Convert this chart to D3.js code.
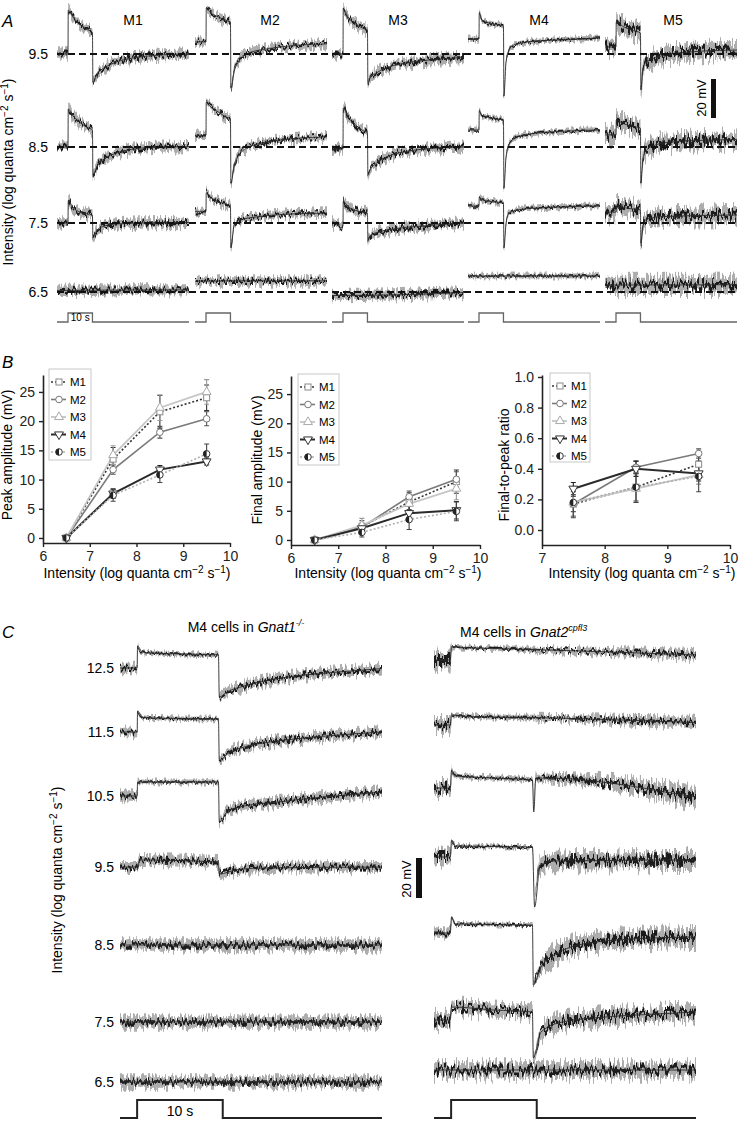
<!DOCTYPE html>
<html>
<head>
<meta charset="utf-8">
<script src="https://cdn.jsdelivr.net/npm/d3@7"></script>
<style>
body { margin: 0; background: #fff; }
svg { display: block; font-family: "Liberation Sans", Arial, Helvetica, sans-serif; }
</style>
</head>
<body>
<div class="fig"></div>
<script>
// ---------- data ----------
var cells = ["M1", "M2", "M3", "M4", "M5"];
var rowsA = ["9.5", "8.5", "7.5", "6.5"];
var rowsC = ["12.5", "11.5", "10.5", "9.5", "8.5", "7.5", "6.5"];
var stimOn = [0, 10];          // light step, s
var scaleBarMv = 20;

// panel A traces, [time (s), mV re. dashed line], rows 9.5 / 8.5 / 7.5 / 6.5
var traceM1 = [
  [[-4.5,0],[0,0],[0.1,22.5],[2,19],[5,15],[8,12.5],[10,11],[10.2,-14.5],[12,-10],[15,-7],[20,-4],[26,-2.2],[33,-1],[41,-0.3],[49.5,0]],
  [[-4.5,0],[0,0],[0.1,19.5],[2,16],[5,12.5],[8,10],[10,8.7],[10.2,-14.5],[12,-9.5],[15,-6],[20,-3],[26,-1.2],[33,-0.3],[49.5,0.2]],
  [[-4.5,0],[0,0],[0.1,11.5],[2,8],[5,5.5],[10,4],[10.2,-7.5],[12,-3.5],[15,-1.5],[20,-0.5],[30,0],[49.5,0.3]],
  [[-4.5,0.8],[20,1],[49.5,1.1]]
];
var traceM2 = [
  [[-4.5,6.2],[0,6.2],[0.1,23.5],[2,21],[5,19],[8,17.3],[10,16.4],[10.2,-17.5],[11.5,-9],[13,-4.5],[15,-1],[20,1.5],[26,2.8],[33,4],[41,4.8],[49.5,5.2]],
  [[-4.5,6],[0,6],[0.1,23],[2,20.5],[5,18],[8,15.5],[10,14.4],[10.2,-18.5],[11.5,-9.5],[13,-5],[16,-1],[20,1.2],[26,2.8],[33,4],[41,4.8],[49.5,5.2]],
  [[-4.5,6],[0,6],[0.1,15.5],[2,13],[5,11],[10,8.7],[10.2,-12.8],[11.5,-1],[14,1.5],[20,3],[30,4.3],[49.5,5.1]],
  [[-4.5,5.6],[20,5.7],[49.5,5.7]]
];
var traceM3 = [
  [[-4.5,0],[0,0],[0.1,23.5],[2,19],[5,15.5],[8,13.3],[10,12.3],[10.2,-15],[11,-12.5],[14,-9.5],[19,-6.5],[25,-4.8],[32,-3.5],[40,-2.5],[49.5,-1.8]],
  [[-4.5,-1],[0,-1],[0.1,20],[2,15.5],[5,11.5],[8,8.5],[10,7.2],[10.2,-14.5],[11,-12],[14,-8],[19,-4.5],[25,-2.5],[32,-1.2],[40,-0.4],[49.5,0]],
  [[-4.5,0],[-2.5,-0.5],[-1,-2.5],[0,-1.5],[0.1,11],[2,8.5],[5,6.5],[10,5],[10.2,-9],[11,-6.5],[15,-4.5],[22,-2.8],[30,-1.8],[40,-0.8],[49.5,0]],
  [[-4.5,-1.8],[20,-1.5],[49.5,-0.3]]
];
var traceM4 = [
  [[-4.5,7.7],[0,7.7],[0.1,21],[1,17.5],[3,16.3],[6,15.4],[10,14.4],[10.2,-21.5],[11,-5],[12,1],[14,4.5],[18,5.8],[25,6.7],[35,7.4],[49.5,8.2]],
  [[-4.5,8.7],[0,8.7],[0.1,18.5],[1,16.3],[4,15.2],[7,14.5],[10,13.8],[10.2,-21],[11,-6],[12,0.5],[14,4],[18,6],[25,7.3],[35,8.1],[49.5,8.8]],
  [[-4.5,8.7],[0,8.7],[0.1,13.3],[1.5,11.8],[5,11],[10,10.3],[10.2,-12.8],[11,-1],[12,4.5],[15,6.5],[25,7.8],[49.5,8.7]],
  [[-4.5,8.2],[20,8.2],[49.5,8.3]]
];
var traceM5 = [
  [[-4.5,3.6],[0,3.6],[0.1,16.4],[3,14],[7,12],[10,10.8],[10.2,-18.5],[11,-8],[12.5,-4],[16,-2],[22,0],[30,1],[40,1.8],[49.5,2]],
  [[-4.5,6.2],[0,6.2],[0.1,13.8],[3,12],[7,10.5],[10,9.7],[10.2,-18.5],[11,-6],[12.5,-1.5],[16,1],[22,2.5],[30,3.2],[49.5,3.8]],
  [[-4.5,5.6],[0,5.6],[0.1,8.7],[5,7.5],[10,6.7],[10.2,-10.3],[11,-2],[12.5,2],[20,3.3],[49.5,4.1]],
  [[-4.5,3.6],[20,3.6],[49.5,3.8]]
];
var noiseA = [1.5, 1.2, 1.5, 0.8, 2.6];   // SEM half-width, mV

// panel B, x = log intensity
var intensB = [6.5, 7.5, 8.5, 9.5];
var intensRatio = [7.5, 8.5, 9.5];
var peakAmp = [[0,13.5,21.6,24.0],[0,11.7,18.1,20.4],[0,14.2,22.3,25.0],[0,7.6,11.7,13.1],[0,7.3,10.8,14.4]];
var peakErr = [[0.3,2.0,2.8,2.2],[0.3,0.8,1.0,1.2],[0.3,1.6,2.2,2.1],[0.2,0.8,0.7,0.6],[0.2,1.0,1.3,1.7]];
var finalAmp = [[0,2.3,6.5,10.0],[0,2.2,7.4,10.4],[0,2.5,6.2,8.8],[0,2.0,4.6,5.1],[0,1.3,3.5,4.9]];
var finalErr = [[0.2,1.0,1.6,2.0],[0.2,0.7,1.0,1.3],[0.2,1.2,1.6,1.9],[0.2,0.6,1.2,1.5],[0.2,0.8,1.7,1.6]];
var ratio = [[0.17,0.28,0.43],[0.17,0.41,0.50],[0.18,0.27,0.36],[0.27,0.40,0.37],[0.18,0.28,0.35]];
var ratioErr = [[0.08,0.09,0.08],[0.05,0.04,0.03],[0.09,0.09,0.06],[0.04,0.05,0.05],[0.10,0.10,0.10]];
var ampTicks = [0, 5, 10, 15, 20, 25];
var ratioTicks = [0, 0.2, 0.4, 0.6, 0.8, 1.0];

// panel C traces, [time (s), mV re. pre-light level, SEM half-width]
var tracesGnat1 = [
  [[-2,0,1.3],[0,0,1.3],[0.05,11,0.6],[0.6,8,0.6],[1.5,7.5,0.6],[9.5,6.5,0.7],[9.6,-14.5,1],[10.5,-12,1.4],[12.5,-9,1.5],[15.5,-6,1.5],[19.5,-3.5,1.5],[23.5,-2,1.5],[28.6,-0.3,1.5]],
  [[-2,0,1.3],[0,0,1.3],[0.05,10.5,0.6],[0.6,7.5,0.6],[1.5,7,0.6],[9.5,6.5,0.7],[9.6,-14.5,1],[10.5,-11,1.4],[12.5,-7.5,1.5],[15.5,-5,1.5],[19.5,-3,1.5],[23.5,-1.5,1.5],[28.6,0,1.5]],
  [[-2,0,1.5],[0,0,1.5],[0.05,7,0.8],[9.5,7,0.8],[9.6,-13,1],[10.5,-8,1.5],[12.5,-5,1.5],[16.5,-3,1.6],[20.5,-1,1.6],[24.5,0.5,1.6],[28.6,2,1.6]],
  [[-2,0,1.6],[0,0,1.6],[0.3,3.5,1.6],[9.5,2.5,1.6],[9.6,-3.5,1.6],[11.5,-1.5,1.6],[14.5,-0.5,1.6],[28.6,0,1.6]],
  [[-2,0,1.8],[10,0,1.8],[28.6,0,1.8]],
  [[-2,0,1.8],[10,0,1.8],[28.6,0,1.8]],
  [[-2,0,1.8],[10,0,1.8],[28.6,0,1.8]]
];
var tracesGnat2 = [
  [[-2,0,3.0],[-0.1,0,3.0],[0.05,6.5,0.7],[3,6,0.7],[10,5.2,0.9],[20,3.8,1.3],[28.6,2.5,1.6]],
  [[-2,0,2.2],[-0.1,0,2.2],[0.05,5,0.7],[2,4.2,0.7],[10,3.7,0.9],[20,2.5,1.3],[28.6,1.2,1.8]],
  [[-2,0,2.2],[-0.1,0,2.2],[0.05,9,0.8],[0.5,6,0.8],[5,5,0.8],[9.5,4,0.9],[9.65,-12,0.5],[9.9,5,1.3],[13,4.8,1.4],[17,3.3,1.8],[21,1,2.3],[25,-2,2.8],[28.6,-4.5,3.2]],
  [[-2,0,2],[-0.1,0,2],[0.05,8.5,0.7],[0.5,5.5,0.6],[9.5,5,0.6],[9.75,-25,0.5],[10.4,-4,2.2],[12,-2,2.6],[18,-1.8,2.8],[24,-1.5,2.8],[28.6,-1.5,2.8]],
  [[-2,0,1.5],[-0.1,0,1.5],[0.05,8,0.6],[0.5,4.5,0.6],[9.5,4,0.6],[9.6,-26,0.5],[10.5,-17,2.5],[12,-11,2.8],[14,-7,2.8],[17,-4.5,2.8],[21,-3,2.8],[28.6,-2,2.8]],
  [[-2,0,2.5],[-0.1,0,2.5],[0.05,6.5,2],[5,5,2],[9.5,4,2],[9.6,-19,0.6],[10.5,-6,2.5],[13,-1,2.5],[18,1.5,2.5],[24,3,2.5],[28.6,4,2.5]],
  [[-2,0,2.4],[10,0,2.4],[28.6,0,2.4]]
];

// ---------- layout ----------
var W = 742, H = 1130;
var colX = [57, 195, 332, 468, 605], colW = 132;
var labelXA = [133, 270, 398, 539, 673];
var rowYA = [54, 147, 223, 292];
var tA = [-4.5, 49.5], pxA = 1.95;
var rowYC1 = [668, 732, 796, 867, 945, 1022, 1082];
var rowYC2 = [660, 725, 788, 857, 933, 1020, 1070];
var tC = [-2, 28.6], pxC = 2.0;

var svg = d3.select("div.fig").append("svg").attr("width", W).attr("height", H);
var defs = svg.append("defs");

// vertical jitter that gives the traces their noisy look
function jitter(id, scale, seed, fx) {
  var f = defs.append("filter").attr("id", id)
    .attr("filterUnits", "userSpaceOnUse")
    .attr("x", 0).attr("y", 0).attr("width", W).attr("height", H)
    .attr("color-interpolation-filters", "sRGB");
  f.append("feTurbulence").attr("type", "fractalNoise").attr("baseFrequency", fx + " 0.05")
    .attr("numOctaves", 2).attr("seed", seed).attr("result", "noise");
  f.append("feColorMatrix").attr("in", "noise").attr("type", "matrix")
    .attr("values", "0 0 0 0 0.5  0 2.6 0 0 -0.8  0 0 0 0 0  0 0 0 0 1").attr("result", "map");
  f.append("feDisplacementMap").attr("in", "SourceGraphic").attr("in2", "map")
    .attr("scale", scale).attr("xChannelSelector", "R").attr("yChannelSelector", "G");
}
jitter("band-s", 4, 11, 0.45); jitter("band-m", 7, 13, 0.45); jitter("band-l", 11, 15, 0.45);
jitter("core-s", 3, 2, 0.4); jitter("core-m", 6, 4, 0.4); jitter("core-l", 10, 6, 0.4);

var bandG = {}, coreG = {};
["s", "m", "l"].forEach(function (k) {
  bandG[k] = svg.append("g").attr("filter", "url(#band-" + k + ")").attr("fill", "#adadad");
});
["s", "m", "l"].forEach(function (k) {
  coreG[k] = svg.append("g").attr("filter", "url(#core-" + k + ")").attr("fill", "#1b1b1b");
});
var plainG = svg.append("g").attr("fill", "none").attr("stroke", "#2a2a2a").attr("stroke-width", 0.9);

function noiseClass(s) { return s < 1 ? "s" : s < 2 ? "m" : "l"; }

function drawTrace(pts, x, base, pxmv, sd0) {
  var sd = function (p) { return p.length > 2 ? p[2] : sd0; };
  var y = d3.scaleLinear().domain([0, 1]).range([base, base - pxmv]);
  var area = function (k) {
    return d3.area().curve(d3.curveMonotoneX)
      .x(function (p) { return x(p[0]); })
      .y0(function (p) { return y(p[1] - k(p)); })
      .y1(function (p) { return y(p[1] + k(p)); });
  };
  var band = area(function (p) { return 1.6 * sd(p); });
  var core = area(function (p) { return Math.max(0.4, 0.5 * sd(p)); });
  // split into runs with the same noise level
  var runs = [], cur = null;
  for (var i = 0; i < pts.length - 1; i++) {
    var c = noiseClass(Math.max(sd(pts[i]), sd(pts[i + 1])));
    if (!cur || cur.c !== c) { cur = { c: c, pts: [pts[i]] }; runs.push(cur); }
    cur.pts.push(pts[i + 1]);
  }
  runs.forEach(function (r) {
    bandG[r.c].append("path").attr("d", band(r.pts));
    coreG[r.c].append("path").attr("d", core(r.pts));
  });
  plainG.append("path").attr("d", d3.line().curve(d3.curveMonotoneX)
    .x(function (p) { return x(p[0]); }).y(function (p) { return y(p[1]); })(pts));
}

function stimulus(x, yb, yt, color, w) {
  var p = [[x(x.domain()[0]), yb], [x(stimOn[0]), yb], [x(stimOn[0]), yt], [x(stimOn[1]), yt],
           [x(stimOn[1]), yb], [x(x.domain()[1]), yb]];
  svg.append("path").attr("d", d3.line()(p)).attr("fill", "none")
    .attr("stroke", color).attr("stroke-width", w);
}

function intensityLabel(t) {
  t.append("tspan").text("Intensity (log quanta cm");
  t.append("tspan").attr("dy", -5).attr("font-size", 10).text("\u22122");
  t.append("tspan").attr("dy", 5).text(" s");
  t.append("tspan").attr("dy", -5).attr("font-size", 10).text("\u22121");
  t.append("tspan").attr("dy", 5).text(")");
}

function panelLetter(s, x, y) {
  svg.append("text").attr("x", x).attr("y", y).attr("font-size", 17)
    .attr("font-style", "italic").text(s);
}

// ---------- panel A ----------
panelLetter("A", 2, 27);
var tracesA = [traceM1, traceM2, traceM3, traceM4, traceM5];
cells.forEach(function (c, i) {
  var x = d3.scaleLinear().domain(tA).range([colX[i], colX[i] + colW]);
  tracesA[i].forEach(function (pts, r) { drawTrace(pts, x, rowYA[r], pxA, noiseA[i]); });
  stimulus(x, 322, 313, "#666", 1.3);
  svg.append("text").attr("x", labelXA[i]).attr("y", 25).attr("font-size", 14)
    .attr("text-anchor", "middle").text(c);
  if (i === 0) {
    svg.append("text").attr("x", (x(stimOn[0]) + x(stimOn[1])) / 2).attr("y", 321)
      .attr("font-size", 10).attr("text-anchor", "middle").text("10 s");
  }
});
rowsA.forEach(function (r, j) {
  svg.append("line").attr("x1", 57).attr("x2", 738).attr("y1", rowYA[j]).attr("y2", rowYA[j])
    .attr("stroke", "#111").attr("stroke-width", 1.8).attr("stroke-dasharray", "7,4");
  svg.append("text").attr("x", 48).attr("y", rowYA[j] + 5).attr("font-size", 14)
    .attr("text-anchor", "end").text(r);
});
intensityLabel(svg.append("text").attr("transform", "translate(13,172) rotate(-90)")
  .attr("font-size", 14).attr("text-anchor", "middle"));
svg.append("rect").attr("x", 711).attr("y", 79).attr("width", 5).attr("height", scaleBarMv * pxA).attr("fill", "#111");
svg.append("text").attr("transform", "translate(706,98) rotate(-90)").attr("font-size", 13)
  .attr("text-anchor", "middle").text("20 mV");

// ---------- panel B ----------
panelLetter("B", 2, 368);
var seriesStyle = [
  { stroke: "#333", dash: "2,2", w: 1.6, sym: "square", ms: "#8a8a8a", err: "#333" },
  { stroke: "#7a7a7a", dash: null, w: 1.6, sym: "circle", ms: "#777", err: "#555" },
  { stroke: "#c6c6c6", dash: null, w: 1.8, sym: "tri", ms: "#aaa", err: "#999" },
  { stroke: "#2a2a2a", dash: null, w: 2, sym: "tridown", ms: "#333", err: "#222" },
  { stroke: "#b0b0b0", dash: "2,2", w: 1.6, sym: "half", ms: "#333", err: "#444" }
];

function marker(g, st, cx, cy) {
  if (st.sym === "square") {
    g.append("rect").attr("x", cx - 3).attr("y", cy - 3).attr("width", 6).attr("height", 6)
      .attr("fill", "#fff").attr("stroke", st.ms);
  } else if (st.sym === "circle" || st.sym === "half") {
    g.append("circle").attr("cx", cx).attr("cy", cy).attr("r", 3.3).attr("fill", "#fff").attr("stroke", st.ms);
    if (st.sym === "half") {
      g.append("path").attr("d", "M" + cx + "," + (cy - 3.3) + "A3.3,3.3 0 0 0 " + cx + "," + (cy + 3.3) + "Z")
        .attr("fill", "#222");
    }
  } else {
    g.append("path").attr("d", d3.symbol(d3.symbolTriangle, 34)())
      .attr("transform", "translate(" + cx + "," + cy + ")" + (st.sym === "tridown" ? " rotate(180)" : ""))
      .attr("fill", "#fff").attr("stroke", st.ms);
  }
}

function lineChart(cfg) {
  var x = d3.scaleLinear().domain(cfg.xd).range(cfg.xr);
  var y = d3.scaleLinear().domain(cfg.yd).range(cfg.yr);
  var g = svg.append("g");
  var ax = g.append("g").attr("transform", "translate(0," + cfg.yr[0] + ")")
    .call(d3.axisBottom(x).tickValues(cfg.xt).tickSize(4).tickSizeOuter(0).tickPadding(4).tickFormat(d3.format("d")));
  var ay = g.append("g").attr("transform", "translate(" + cfg.xr[0] + ",0)")
    .call(d3.axisLeft(y).tickValues(cfg.yt).tickSize(4).tickSizeOuter(0).tickPadding(4).tickFormat(cfg.fmt));
  [ax, ay].forEach(function (a) {
    a.select(".domain").attr("stroke", "#222").attr("stroke-width", 1.6);
    a.selectAll(".tick line").attr("stroke", "#222").attr("stroke-width", 1.4);
    a.selectAll(".tick text").attr("font-size", 14).attr("fill", "#222")
      .attr("font-family", "Liberation Sans, Arial, sans-serif");
  });

  cells.forEach(function (c, i) {
    var st = seriesStyle[i];
    var pts = cfg.xs.map(function (xv, j) { return [xv, cfg.vals[i][j], cfg.errs[i][j]]; });
    g.append("path").attr("d", d3.line().x(function (p) { return x(p[0]); }).y(function (p) { return y(p[1]); })(pts))
      .attr("fill", "none").attr("stroke", st.stroke).attr("stroke-width", st.w)
      .attr("stroke-dasharray", st.dash);
    pts.forEach(function (p) {
      var cx = x(p[0]), t = y(p[1] + p[2]), b = y(p[1] - p[2]);
      g.append("path").attr("d", "M" + cx + "," + t + "V" + b + "M" + (cx - 2.5) + "," + t + "H" + (cx + 2.5) +
        "M" + (cx - 2.5) + "," + b + "H" + (cx + 2.5))
        .attr("stroke", st.err).attr("stroke-width", 1.1).attr("fill", "none");
    });
  });
  cells.forEach(function (c, i) {
    cfg.xs.forEach(function (xv, j) { marker(g, seriesStyle[i], x(xv), y(cfg.vals[i][j])); });
  });

  // legend
  var L = cfg.legend;
  g.append("rect").attr("x", L[0]).attr("y", L[1]).attr("width", L[2]).attr("height", L[3])
    .attr("fill", "#fff").attr("stroke", "#c8c8c8").attr("stroke-width", 1);
  cells.forEach(function (c, i) {
    var st = seriesStyle[i], ly = L[1] + 13 + i * 17.5;
    g.append("line").attr("x1", L[0] + 2).attr("x2", L[0] + 17).attr("y1", ly).attr("y2", ly)
      .attr("stroke", st.stroke).attr("stroke-width", st.w).attr("stroke-dasharray", st.dash);
    marker(g, st, L[0] + 10, ly);
    g.append("text").attr("x", L[0] + 21).attr("y", ly + 4).attr("font-size", 11.5).text(c);
  });

  g.append("text").attr("transform", "translate(" + cfg.ylab[0] + "," + cfg.ylab[1] + ") rotate(-90)")
    .attr("font-size", 14).attr("text-anchor", "middle").text(cfg.ytitle);
  intensityLabel(g.append("text").attr("x", cfg.xlab[0]).attr("y", cfg.xlab[1])
    .attr("font-size", 14).attr("text-anchor", "middle"));
}

lineChart({ xd: [6, 10], xr: [43, 230], yd: [-0.86, 27.9], yr: [543, 375], xt: [6, 7, 8, 9, 10],
  yt: ampTicks, fmt: d3.format("d"), xs: intensB, vals: peakAmp, errs: peakErr,
  legend: [49, 369, 42, 91], ylab: [12, 455], ytitle: "Peak amplitude (mV)", xlab: [137, 578] });
lineChart({ xd: [6, 10], xr: [291, 480], yd: [-0.86, 28.1], yr: [545, 376], xt: [6, 7, 8, 9, 10],
  yt: ampTicks, fmt: d3.format("d"), xs: intensB, vals: finalAmp, errs: finalErr,
  legend: [298, 374, 41, 91], ylab: [262, 460], ytitle: "Final amplitude (mV)", xlab: [388, 578] });
lineChart({ xd: [7, 10], xr: [542, 730], yd: [-0.098, 1.013], yr: [545, 375], xt: [7, 8, 9, 10],
  yt: ratioTicks, fmt: d3.format(".1f"), xs: intensRatio, vals: ratio, errs: ratioErr,
  legend: [550, 373, 40, 89], ylab: [509, 465], ytitle: "Final-to-peak ratio", xlab: [642, 578] });

// ---------- panel C ----------
panelLetter("C", 2, 638);
var xC1 = d3.scaleLinear().domain(tC).range([120, 382]);
var xC2 = d3.scaleLinear().domain(tC).range([434, 696]);
tracesGnat1.forEach(function (pts, r) { drawTrace(pts, xC1, rowYC1[r], pxC); });
tracesGnat2.forEach(function (pts, r) { drawTrace(pts, xC2, rowYC2[r], pxC); });
rowsC.forEach(function (r, j) {
  svg.append("text").attr("x", 114).attr("y", rowYC1[j] + 5).attr("font-size", 14)
    .attr("text-anchor", "end").text(r);
});
stimulus(xC1, 1118, 1100, "#222", 2);
stimulus(xC2, 1118, 1100, "#222", 2);
svg.append("text").attr("x", (xC1(stimOn[0]) + xC1(stimOn[1])) / 2).attr("y", 1116)
  .attr("font-size", 14).attr("text-anchor", "middle").text("10 s");

var t1 = svg.append("text").attr("x", 246).attr("y", 632).attr("font-size", 14).attr("text-anchor", "middle");
t1.append("tspan").text("M4 cells in ");
t1.append("tspan").attr("font-style", "italic").text("Gnat1");
t1.append("tspan").attr("font-style", "italic").attr("font-size", 9).attr("dy", -6).text("-/-");
var t2 = svg.append("text").attr("x", 460).attr("y", 637).attr("font-size", 14);
t2.append("tspan").text("M4 cells in ");
t2.append("tspan").attr("font-style", "italic").text("Gnat2");
t2.append("tspan").attr("font-style", "italic").attr("font-size", 9).attr("dy", -6).text("cpfl3");

intensityLabel(svg.append("text").attr("transform", "translate(62,880) rotate(-90)")
  .attr("font-size", 14).attr("text-anchor", "middle"));
svg.append("rect").attr("x", 416).attr("y", 858).attr("width", 6).attr("height", scaleBarMv * pxC).attr("fill", "#111");
svg.append("text").attr("transform", "translate(411,879) rotate(-90)").attr("font-size", 13)
  .attr("text-anchor", "middle").text("20 mV");
</script>
</body>
</html>
